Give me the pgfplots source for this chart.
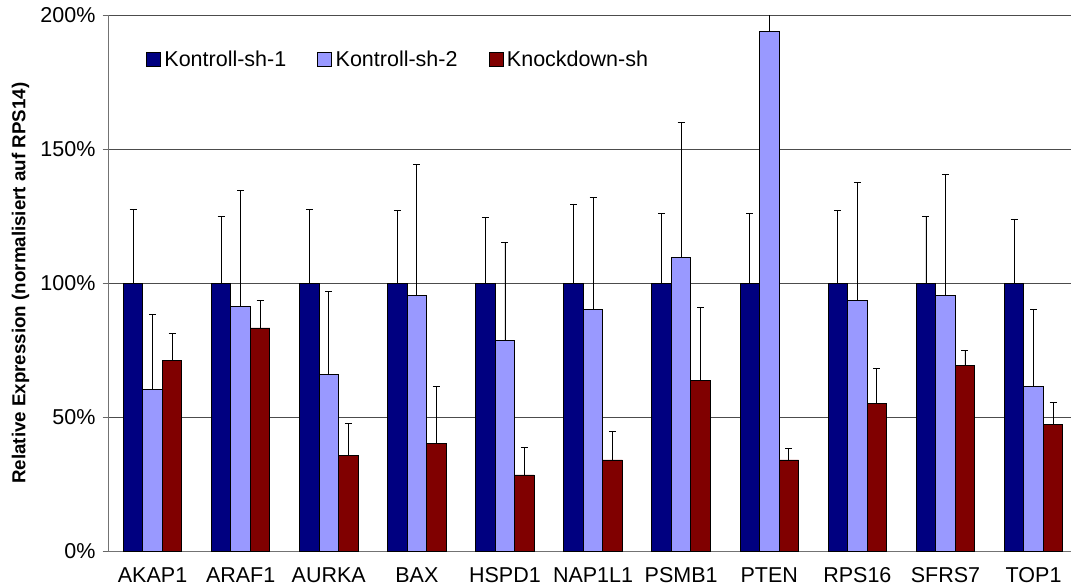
\documentclass[border=0pt]{standalone}
\usepackage{pgfplots}
\usepackage{pgfplotstable}
\pgfplotsset{compat=1.18}
\usepackage{fontspec}
\setmainfont{Liberation Sans}
\definecolor{kone}{RGB}{0,0,128}
\definecolor{ktwo}{RGB}{153,153,255}
\definecolor{kd}{RGB}{128,0,0}
\pgfplotstableread{
x y e
0 100 27.4
1 100 25.1
2 100 27.7
3 100 27.1
4 100 24.4
5 100 29.6
6 100 26.0
7 100 26.2
8 100 27.1
9 100 24.9
10 100 24.0
}\kone
\pgfplotstableread{
x y e
0 60.4 27.9
1 91.2 43.6
2 66.1 30.8
3 95.4 49.1
4 78.8 36.3
5 90.3 41.7
6 109.5 50.6
7 194.2 10.0
8 93.6 44.2
9 95.6 44.9
10 61.5 28.8
}\ktwo
\pgfplotstableread{
x y e
0 71.0 10.3
1 83.3 10.3
2 35.6 12.0
3 40.1 21.5
4 28.4 10.4
5 34.0 10.7
6 63.6 27.3
7 34.0 4.2
8 55.2 12.9
9 69.2 5.6
10 47.1 8.2
}\kdown
\begin{document}
\begin{tikzpicture}
\begin{axis}[
  at={(0,0)}, anchor=south west,
  scale only axis,
  width=962.5bp, height=535.5bp,
  font=\fontsize{21.5bp}{26bp}\selectfont,
  /pgf/number format/assume math mode=true,
  ybar=0pt, bar width=19.5bp,
  xmin=-0.5, xmax=10.425,
  ymin=0, ymax=200,
  enlargelimits=false,
  xtick=data,
  xticklabels={AKAP1,ARAF1,AURKA,BAX,HSPD1,NAP1L1,PSMB1,PTEN,RPS16,SFRS7,TOP1},
  xtick style={draw=none},
  xticklabel style={yshift=-7bp},
  ytick={0,50,100,150,200},
  yticklabel={\pgfmathprintnumber{\tick}\%},
  yticklabel style={xshift=-3.5bp},
  ytick style={black!60, line width=0.8bp},
  major tick length=6bp,
  tick align=outside,
  axis x line*=bottom,
  axis y line*=left,
  axis line style={black!55, line width=1bp},
  ymajorgrids,
  grid style={black!70, line width=0.8bp},
  ylabel={\bfseries\fontsize{18.75bp}{22bp}\selectfont Relative Expression (normalisiert auf RPS14)},
  every axis y label/.style={at={(axis description cs:-0.0915,0.5)}, rotate=90, anchor=center},
  legend columns=3,
  legend style={draw=none, fill=none, at={(axis description cs:0.039,0.9188)}, anchor=west,
    inner sep=0pt, outer sep=0pt,
    font=\fontsize{21.5bp}{26bp}\selectfont,
    /tikz/every odd column/.append style={column sep=1.5bp},
    /tikz/every even column/.append style={column sep=29bp}},
  legend image code/.code={\draw[#1, line width=0.9bp] (0bp,-7bp) rectangle (14bp,7bp);},
  error bars/y dir=plus,
  error bars/y explicit,
  error bars/error mark=-,
  error bars/error bar style={black, line width=0.9bp},
  error bars/error mark options={rotate=90, black, mark size=3.5bp, line width=0.9bp},
]
\addplot[fill=kone, draw=black, line width=0.9bp] table[x=x, y=y, y error=e] {\kone};
\addplot[fill=ktwo, draw=black, line width=0.9bp] table[x=x, y=y, y error=e] {\ktwo};
\addplot[fill=kd, draw=black, line width=0.9bp] table[x=x, y=y, y error=e] {\kdown};
\legend{Kontroll-sh-1,Kontroll-sh-2,Knockdown-sh}
\end{axis}
\pgfresetboundingbox
\useasboundingbox (-108.5bp,-36bp) rectangle (962.5bp,551bp);
\end{tikzpicture}
\end{document}
